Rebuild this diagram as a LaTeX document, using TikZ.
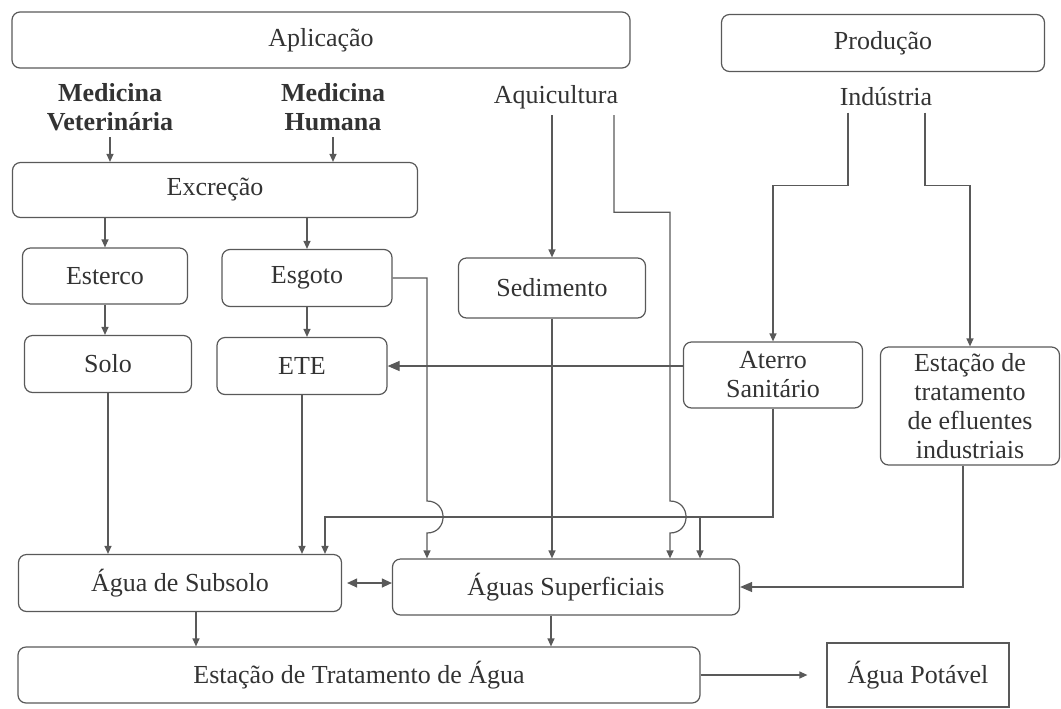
\documentclass[tikz,border=0pt]{standalone}
\usepackage{fontspec}
\setmainfont{Liberation Serif}
\usetikzlibrary{arrows.meta}

\begin{document}
\begin{tikzpicture}[x=0.5pt, y=-0.5pt,
        texto/.style={font=\fontsize{13}{14.5}\selectfont, text=black!80, align=center},
        caixa/.style={texto, draw=black!65, line width=0.6pt, rounded corners=4pt, inner sep=0pt},
        rotulo/.style={texto, inner sep=3pt},
        linha/.style={draw=black!65, line width=0.6pt},
        seta/.style={linha, -{Triangle[length=4pt, width=3.5pt]}},
        setag/.style={linha, -{Triangle[length=6pt, width=5pt]}},
        setadupla/.style={linha, {Triangle[length=5pt, width=4.5pt]}-{Triangle[length=5pt, width=4.5pt]}}]
        \useasboundingbox (0,0) rectangle (1061,708);
        % caixas do topo
        \node[caixa, minimum width=309pt, minimum height=28pt] (aplic) at (321,40) {Aplicação};
        \node[caixa, minimum width=161.5pt, minimum height=28.5pt] (prod) at (883,43) {Produção};
        % origens
        \node[rotulo, font=\fontsize{13}{14.5}\selectfont\bfseries] (medvet) at (110,107) {Medicina\\Veterinária};
        \node[rotulo, font=\fontsize{13}{14.5}\selectfont\bfseries] (medhum) at (333,107) {Medicina\\Humana};
        \node[rotulo] (aqui) at (556,97) {Aquicultura};
        \node[rotulo] (ind) at (886,97) {Indústria};
        % caixas do meio
        \node[caixa, minimum width=202.5pt, minimum height=27.5pt] (excr) at (215,190) {Excreção};
        \node[caixa, minimum width=82.5pt, minimum height=28pt] (esterco) at (105,276) {Esterco};
        \node[caixa, minimum width=85pt, minimum height=28.5pt] (esgoto) at (307,278) {Esgoto};
        \node[caixa, minimum width=93.5pt, minimum height=30pt] (sed) at (552,288) {Sedimento};
        \node[caixa, minimum width=83.5pt, minimum height=28.5pt] (solo) at (108,364) {Solo};
        \node[caixa, minimum width=85pt, minimum height=28.5pt] (ete) at (302,366) {ETE};
        \node[caixa, minimum width=89.5pt, minimum height=33pt] (aterro) at (773,375) {Aterro\\Sanitário};
        \node[caixa, minimum width=89.5pt, minimum height=59pt] (etei) at (970,406) {Estação de\\tratamento\\de efluentes\\industriais};
        % caixas de baixo
        \node[caixa, minimum width=161.5pt, minimum height=28.5pt] (subsolo) at (180,583) {Água de Subsolo};
        \node[caixa, minimum width=173.5pt, minimum height=28pt] (superf) at (566,587) {Águas Superficiais};
        \node[caixa, minimum width=341pt, minimum height=28pt] (eta) at (359,675) {Estação de Tratamento de Água};
        \node[caixa, rounded corners=0pt, minimum width=91pt, minimum height=32pt] (potavel) at (918,675) {Água Potável};
        % pontos auxiliares
        \coordinate (nivel) at (0,517);
        \coordinate (vEsg) at (427,0);
        \coordinate (vAq) at (670,0);
        % setas das origens
        \draw[seta] (medvet.south) -- (medvet.south |- excr.north);
        \draw[seta] (medhum.south) -- (medhum.south |- excr.north);
        \foreach \b in {esterco,esgoto}
            \draw[seta] (\b.north |- excr.south) -- (\b.north);
        \foreach \a/\b in {esterco/solo, esgoto/ete}
            \draw[seta] (\a.south) -- (\a.south |- \b.north);
        \draw[seta] (aqui.south -| sed.north) -- (sed.north);
        % segunda linha da aquicultura, com salto
        \draw[seta] ([xshift=29pt]aqui.south) -- ++(0,97) -| ([yshift=8pt]vAq |- nivel)
            .. controls +(10.7pt,0) and +(10.7pt,0) .. ([yshift=-8pt]vAq |- nivel) -- (vAq |- superf.north);
        % linhas da industria
        \draw[seta] ([xshift=-19pt]ind.south) -- ++(0,73) -| (aterro.north);
        \draw[seta] ([xshift=19.5pt]ind.south) -- ++(0,73) -| (etei.north);
        % aterro para ETE
        \draw[setag] (aterro.west |- ete.east) -- (ete.east);
        % esgoto direto para as aguas superficiais, com salto
        \draw[seta] (esgoto.east) -- (esgoto.east -| vEsg) -- ([yshift=8pt]vEsg |- nivel)
            .. controls +(10.7pt,0) and +(10.7pt,0) .. ([yshift=-8pt]vEsg |- nivel) -- (vEsg |- superf.north);
        % aterro para as aguas
        \draw[seta] (aterro.south) -- (aterro.south |- nivel) -| ([xshift=72.5pt]subsolo.north);
        \draw[seta] ([xshift=67pt]superf.north |- nivel) -- ([xshift=67pt]superf.north);
        % chegadas nas aguas
        \foreach \a in {solo,ete}
            \draw[seta] (\a.south) -- (\a.south |- subsolo.north);
        \draw[seta] (sed.south) -- (sed.south |- superf.north);
        \draw[setag] ([xshift=-3.5pt]etei.south) |- (superf.east);
        \draw[setadupla, shorten <=2.5pt] (subsolo.east) -- (subsolo.east -| superf.west);
        % tratamento de agua
        \draw[seta] ([xshift=8pt]subsolo.south) -- ([xshift=8pt]subsolo.south |- eta.north);
        \draw[seta] ([xshift=-7.5pt]superf.south) -- ([xshift=-7.5pt]superf.south |- eta.north);
        \draw[seta, shorten >=9.5pt] (eta.east) -- (potavel.west);
    \end{tikzpicture}
\end{document}
